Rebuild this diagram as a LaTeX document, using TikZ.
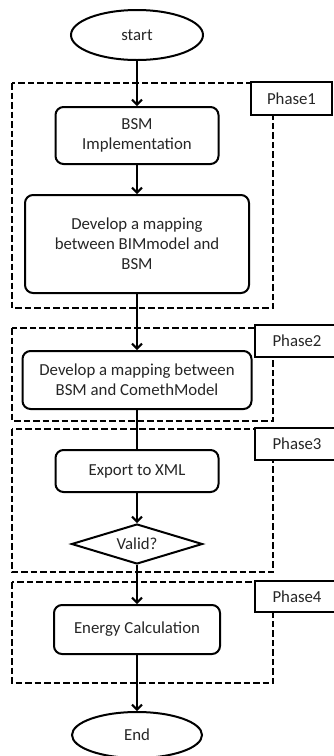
\documentclass[tikz,border=0pt]{standalone}
\usepackage{fontspec}
\setmainfont{Carlito}
\usetikzlibrary{shapes.geometric,arrows.meta}
\begin{document}
\begin{tikzpicture}[x=1pt,y=-1pt,
  every node/.style={font=\fontsize{16.8}{20}\selectfont, text=black!85, align=center, inner sep=0pt},
  proc/.style={draw=black, line width=2pt, rounded corners=8pt},
  term/.style={draw=black, line width=2pt, ellipse},
  dec/.style={draw=black, line width=2pt, diamond, aspect=3.3},
  phasebox/.style={draw=black, line width=2pt, dash pattern=on 6.5pt off 3pt},
  phaselabel/.style={draw=black, fill=white, line width=2pt, rectangle},
  flow/.style={line width=2pt, -{Straight Barb[length=5pt,width=10pt,line width=2pt]}},
  plain/.style={line width=2pt}]
\clip (0,0) rectangle (334,756);
\fill[white] (0,0) rectangle (334,756);
% phase regions
\draw[phasebox] (12,83) rectangle (273,308);
\draw[phasebox] (12,328) rectangle (273,421);
\draw[phasebox] (12,429) rectangle (273,572);
\draw[phasebox] (12,582) rectangle (273,683);
\node[phaselabel, minimum width=81pt, minimum height=33pt] (p1) at (291.5,98.5) {Phase1};
\node[phaselabel, minimum width=84pt, minimum height=32pt] (p2) at (297,341) {Phase2};
\node[phaselabel, minimum width=84pt, minimum height=32pt] (p3) at (297,444) {Phase3};
\node[phaselabel, minimum width=84pt, minimum height=31pt] (p4) at (297,596.5) {Phase4};
% flow nodes
\node[term, minimum width=132pt, minimum height=50pt] (start) at (137,35) {start};
\node[proc, minimum width=163pt, minimum height=57pt] (bsm) at (137,135.5) {BSM\\Implementation};
\node[proc, minimum width=224pt, minimum height=98pt] (map1) at (137,244) {Develop a mapping\\between BIMmodel and\\BSM};
\node[proc, minimum width=229pt, minimum height=58pt] (map2) at (137,380) {Develop a mapping between\\BSM and ComethModel};
\node[proc, minimum width=163pt, minimum height=42pt] (export) at (137,471) {Export to XML};
\node[dec, minimum width=131pt, minimum height=40pt] (valid) at (137,544) {Valid?};
\node[proc, minimum width=166pt, minimum height=49pt] (energy) at (137,629.5) {Energy Calculation};
\node[term, minimum width=130pt, minimum height=46pt] (end) at (137,735) {End};
% connectors
\draw[flow] (start) -- (bsm);
\draw[flow] (bsm) -- (map1);
\draw[flow] (map1) -- (map2);
\draw[plain] (map2) -- (export);
\draw[flow] (export) -- (valid);
\draw[flow] (valid) -- (energy);
\draw[flow] (energy) -- (end);
\end{tikzpicture}
\end{document}
